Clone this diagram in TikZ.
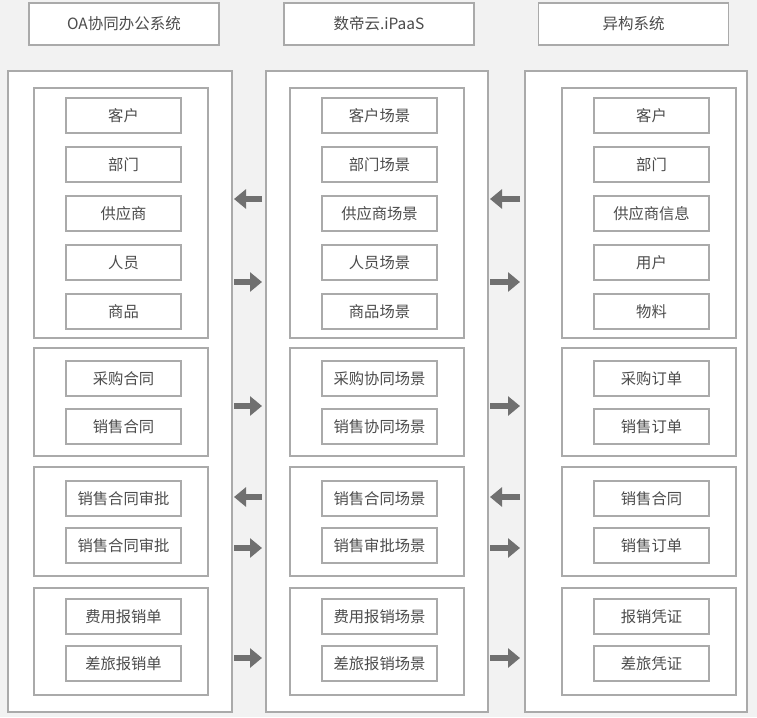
\documentclass[tikz,border=0pt]{standalone}
\usepackage{fontspec}
\setmainfont{Noto Sans CJK SC}
\usetikzlibrary{arrows.meta}
\definecolor{bgc}{HTML}{F2F2F2}
\definecolor{linec}{HTML}{AAAAAA}
\definecolor{txtc}{HTML}{4C4C4C}
\definecolor{arrc}{HTML}{707070}
\tikzset{
  boxs/.style={draw=linec, fill=white, line width=1.3pt},
  itembox/.style={boxs, minimum width=115pt, minimum height=35pt, inner sep=0pt, text=txtc, font=\fontsize{15.3}{17}\selectfont},
  headbox/.style={boxs, minimum width=190pt, minimum height=42pt, inner sep=0pt, text=txtc, font=\fontsize{15.5}{17}\selectfont},
  blockarr/.style={draw=arrc, line width=6pt, -{Triangle[length=12pt,width=19pt]}}
}
\begin{document}
\begin{tikzpicture}[x=1pt,y=-1pt]
\fill[bgc] (0,0) rectangle (757,717);
\useasboundingbox (0,0) rectangle (757,717);
% headers
\node[headbox] (hL) at (124,24) {OA协同办公系统};
\node[headbox] (hM) at (379,24) {数帝云.iPaaS};
\node[headbox] (hR) at (633.5,24) {异构系统};
% columns
\draw[boxs] (8,71) rectangle (232,712);
\draw[boxs] (266,71) rectangle (488,712);
\draw[boxs] (525,71) rectangle (747,712);
% groups
\foreach \xa/\xb in {34/208, 290/464, 562/736}{
  \draw[boxs] (\xa,88) rectangle (\xb,338);
  \draw[boxs] (\xa,348) rectangle (\xb,456);
  \draw[boxs] (\xa,467) rectangle (\xb,576);
  \draw[boxs] (\xa,588) rectangle (\xb,695);
}
% items
\def\ya{115.5}\def\yb{164.5}\def\yc{213.5}\def\yd{262.5}\def\ye{311.5}
\def\yf{378.5}\def\yg{426.5}\def\yh{498.5}\def\yi{545.5}\def\yj{616.5}\def\yk{663.5}
\node[itembox] (L1) at (123.5,\ya) {客户};
\node[itembox] (L2) at (123.5,\yb) {部门};
\node[itembox] (L3) at (123.5,\yc) {供应商};
\node[itembox] (L4) at (123.5,\yd) {人员};
\node[itembox] (L5) at (123.5,\ye) {商品};
\node[itembox] (L6) at (123.5,\yf) {采购合同};
\node[itembox] (L7) at (123.5,\yg) {销售合同};
\node[itembox] (L8) at (123.5,\yh) {销售合同审批};
\node[itembox] (L9) at (123.5,\yi) {销售合同审批};
\node[itembox] (L10) at (123.5,\yj) {费用报销单};
\node[itembox] (L11) at (123.5,\yk) {差旅报销单};
\node[itembox] (M1) at (379.5,\ya) {客户场景};
\node[itembox] (M2) at (379.5,\yb) {部门场景};
\node[itembox] (M3) at (379.5,\yc) {供应商场景};
\node[itembox] (M4) at (379.5,\yd) {人员场景};
\node[itembox] (M5) at (379.5,\ye) {商品场景};
\node[itembox] (M6) at (379.5,\yf) {采购协同场景};
\node[itembox] (M7) at (379.5,\yg) {销售协同场景};
\node[itembox] (M8) at (379.5,\yh) {销售合同场景};
\node[itembox] (M9) at (379.5,\yi) {销售审批场景};
\node[itembox] (M10) at (379.5,\yj) {费用报销场景};
\node[itembox] (M11) at (379.5,\yk) {差旅报销场景};
\node[itembox] (R1) at (651.5,\ya) {客户};
\node[itembox] (R2) at (651.5,\yb) {部门};
\node[itembox] (R3) at (651.5,\yc) {供应商信息};
\node[itembox] (R4) at (651.5,\yd) {用户};
\node[itembox] (R5) at (651.5,\ye) {物料};
\node[itembox] (R6) at (651.5,\yf) {采购订单};
\node[itembox] (R7) at (651.5,\yg) {销售订单};
\node[itembox] (R8) at (651.5,\yh) {销售合同};
\node[itembox] (R9) at (651.5,\yi) {销售订单};
\node[itembox] (R10) at (651.5,\yj) {报销凭证};
\node[itembox] (R11) at (651.5,\yk) {差旅凭证};
% arrow end points
\foreach \n/\y in {1/199, 2/282, 3/406, 4/497, 5/548, 6/658}{
  \coordinate (a\n l) at (234,\y);
  \coordinate (a\n r) at (262,\y);
  \coordinate (b\n l) at (490,\y);
  \coordinate (b\n r) at (520,\y);
}
% arrows
\draw[blockarr] (a1r) -- (a1l);
\draw[blockarr] (b1r) -- (b1l);
\draw[blockarr] (a2l) -- (a2r);
\draw[blockarr] (b2l) -- (b2r);
\draw[blockarr] (a3l) -- (a3r);
\draw[blockarr] (b3l) -- (b3r);
\draw[blockarr] (a4r) -- (a4l);
\draw[blockarr] (b4r) -- (b4l);
\draw[blockarr] (a5l) -- (a5r);
\draw[blockarr] (b5l) -- (b5r);
\draw[blockarr] (a6l) -- (a6r);
\draw[blockarr] (b6l) -- (b6r);
\end{tikzpicture}
\end{document}
